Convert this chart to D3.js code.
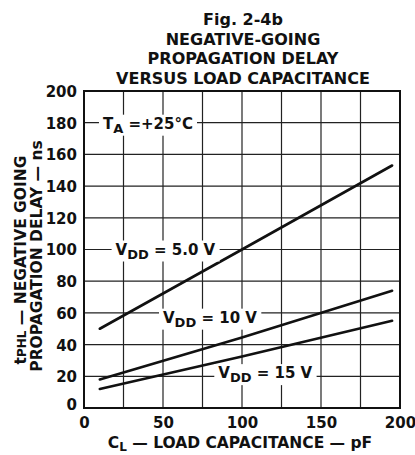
<!DOCTYPE html>
<html>
<head>
<meta charset="utf-8">
<script src="https://cdn.jsdelivr.net/npm/d3@7"></script>
<style>
  body { margin: 0; background: #fff; }
  text { font-family: "DejaVu Sans", sans-serif; font-weight: bold; fill: #111; }
</style>
</head>
<body>
<div class="chart"></div>
<script>
// values
var capacitance = [10, 100, 195];
var vdd5 = [50, 100, 153];
var vdd10 = [18, 44.5, 74];
var vdd15 = [12, 32.5, 55];
var xTicks = [0, 50, 100, 150, 200];
var yTicks = [0, 20, 40, 60, 80, 100, 120, 140, 160, 180, 200];
var titleLines = ["Fig. 2-4b", "NEGATIVE-GOING", "PROPAGATION DELAY", "VERSUS LOAD CAPACITANCE"];

var W = 415, H = 455;
var margin = {top: 91, right: 15, bottom: 47, left: 84};
var width = W - margin.left - margin.right;
var height = H - margin.top - margin.bottom;

var svg = d3.select(".chart").append("svg")
    .attr("width", W)
    .attr("height", H);

var x = d3.scaleLinear().domain([0, 200]).range([0, width]);
var y = d3.scaleLinear().domain([0, 200]).range([height, 0]);

// title
svg.selectAll(".title")
    .data(titleLines)
  .enter().append("text")
    .attr("class", "title")
    .attr("x", 243)
    .attr("y", function(d, i) { return 25 + i * 19.5; })
    .attr("text-anchor", "middle")
    .attr("font-size", 16)
    .text(function(d) { return d; });

var g = svg.append("g")
    .attr("transform", "translate(" + margin.left + "," + margin.top + ")");

// grid
g.selectAll(".vgrid")
    .data(d3.range(25, 200, 25))
  .enter().append("line")
    .attr("class", "vgrid")
    .attr("x1", function(d) { return x(d); })
    .attr("x2", function(d) { return x(d); })
    .attr("y1", 0).attr("y2", height)
    .attr("stroke", "#222").attr("stroke-width", 1.2);
g.selectAll(".hgrid")
    .data(yTicks.slice(1, -1))
  .enter().append("line")
    .attr("class", "hgrid")
    .attr("x1", 0).attr("x2", width)
    .attr("y1", function(d) { return y(d); })
    .attr("y2", function(d) { return y(d); })
    .attr("stroke", "#222").attr("stroke-width", 1.2);

// tick labels via d3 axes, no domain lines
var yAxis = g.append("g")
    .call(d3.axisLeft(y).tickValues(yTicks).tickSize(0).tickPadding(7));
yAxis.select(".domain").remove();
yAxis.selectAll("text")
    .attr("font-size", 15)
    .attr("font-family", "DejaVu Sans, sans-serif")
    .attr("font-weight", "bold")
    .attr("fill", "#111")
    .attr("dy", function(d) { return d == 0 ? "0.1em" : "0.36em"; });

var xAxis = g.append("g")
    .attr("transform", "translate(0," + height + ")")
    .call(d3.axisBottom(x).tickValues(xTicks).tickSize(0).tickPadding(9));
xAxis.select(".domain").remove();
xAxis.selectAll("text")
    .attr("font-size", 15)
    .attr("font-family", "DejaVu Sans, sans-serif")
    .attr("font-weight", "bold")
    .attr("fill", "#111");

// curves
var line = d3.line()
    .x(function(d) { return x(d[0]); })
    .y(function(d) { return y(d[1]); });
[vdd5, vdd10, vdd15].forEach(function(s) {
  g.append("path")
      .datum(capacitance.map(function(c, i) { return [c, s[i]]; }))
      .attr("d", line)
      .attr("fill", "none")
      .attr("stroke", "#111")
      .attr("stroke-width", 2.6)
      .attr("stroke-linecap", "round");
});

// labels with white backing
function label(px, py, main, sub, rest) {
  var t = g.append("text")
      .attr("x", px).attr("y", py)
      .attr("font-size", 15);
  t.append("tspan").text(main);
  t.append("tspan").attr("dy", 4).attr("font-size", 13).text(sub);
  t.append("tspan").attr("dy", -4).text(rest);
  var b = t.node().getBBox();
  g.insert("rect", function() { return t.node(); })
      .attr("x", b.x - 4).attr("y", b.y)
      .attr("width", b.width + 8).attr("height", b.height)
      .attr("fill", "#fff");
}
label(x(12), y(180) + 6, "T", "A", " =+25\u00b0C");
label(x(20), y(100) + 5, "V", "DD", " = 5.0 V");
label(x(50), y(57) + 5, "V", "DD", " = 10 V");
label(x(85), y(22) + 5, "V", "DD", " = 15 V");

// frame
g.append("rect")
    .attr("x", 0).attr("y", 0)
    .attr("width", width).attr("height", height)
    .attr("fill", "none")
    .attr("stroke", "#111")
    .attr("stroke-width", 2);

// axis titles
var xt = svg.append("text")
    .attr("x", 240).attr("y", 448)
    .attr("text-anchor", "middle")
    .attr("font-size", 15.5);
xt.append("tspan").text("C");
xt.append("tspan").attr("dy", 3).attr("font-size", 12).text("L");
xt.append("tspan").attr("dy", -3).text(" \u2014 LOAD CAPACITANCE \u2014 pF");

var yt1 = svg.append("text")
    .attr("transform", "translate(26,260) rotate(-90)")
    .attr("text-anchor", "middle")
    .attr("font-size", 15.5);
yt1.append("tspan").text("t");
yt1.append("tspan").attr("font-size", 12).text("PHL");
yt1.append("tspan").text(" \u2014 NEGATIVE GOING");

svg.append("text")
    .attr("transform", "translate(42,256) rotate(-90)")
    .attr("text-anchor", "middle")
    .attr("font-size", 15.5)
    .text("PROPAGATION DELAY \u2014 ns");
</script>
</body>
</html>
